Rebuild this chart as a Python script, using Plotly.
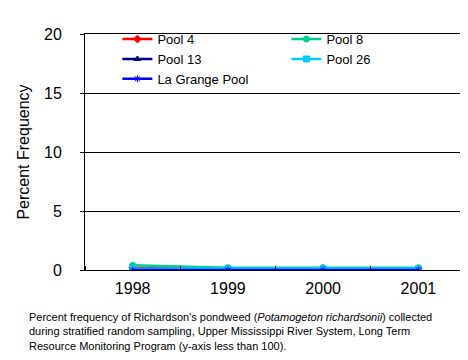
import plotly.graph_objects as go

years = [1998, 1999, 2000, 2001]
pool4 = [0.2, 0.1, 0.1, 0.1]
pool8 = [0.4, 0.2, 0.2, 0.2]
pool13 = [0.0, 0.0, 0.0, 0.0]
pool26 = [0.1, 0.1, 0.1, 0.1]
lagrange = [0.0, 0.0, 0.0, 0.0]

series = [
    ("Pool 4", pool4, "#FF0000", "diamond"),
    ("Pool 8", pool8, "#00CC99", "circle"),
    ("Pool 13", pool13, "#000080", "triangle-up"),
    ("Pool 26", pool26, "#00CCFF", "square"),
    ("La Grange Pool", lagrange, "#0000FF", "asterisk-open"),
]

fig = go.Figure()
for name, vals, col, sym in series:
    fig.add_trace(go.Scatter(
        x=years, y=vals, name=name, mode="lines+markers",
        line=dict(color=col, width=2.5),
        marker=dict(color=col, symbol=sym, size=6, line=dict(color=col, width=1)),
    ))

fig.update_layout(
    width=468, height=360,
    margin=dict(l=77, r=10, t=26, b=98),
    paper_bgcolor="white", plot_bgcolor="white",
    font=dict(family="Arial, Liberation Sans, sans-serif", color="black"),
    showlegend=True,
    legend=dict(
        orientation="h", x=0.085, y=1.042, xanchor="left", yanchor="top",
        entrywidth=124, entrywidthmode="pixels",
        font=dict(size=13), bgcolor="rgba(0,0,0,0)",
        tracegroupgap=0, itemwidth=30,
    ),
    xaxis=dict(
        range=[1997.5, 2001.5], tickvals=years, ticks="",
        showgrid=False, zeroline=False,
        showline=True, linecolor="black", linewidth=1, mirror=True,
        tickfont=dict(size=16), ticklabelstandoff=4,
        minor=dict(tick0=1997.5, dtick=1, ticks="inside", ticklen=4, tickcolor="black", showgrid=False),
    ),
    yaxis=dict(
        range=[0, 20], dtick=5, ticks="outside", ticklen=4, tickcolor="black",
        showgrid=True, gridcolor="black", gridwidth=1, zeroline=False,
        showline=True, linecolor="black", linewidth=1, mirror=True,
        tickfont=dict(size=16), ticklabelstandoff=15,
        title=dict(text="Percent Frequency", font=dict(size=16), standoff=10),
    ),
    annotations=[dict(
        xref="paper", yref="paper", x=-0.151, y=-0.166, xanchor="left", yanchor="top",
        align="left", showarrow=False, font=dict(size=11),
        text="Percent frequency of Richardson's pondweed (<i>Potamogeton richardsonii</i>) collected<br>"
             "during stratified random sampling, Upper Mississippi River System, Long Term<br>"
             "Resource Monitoring Program (y-axis less than 100).",
    )],
)

fig.write_html("out.html")
